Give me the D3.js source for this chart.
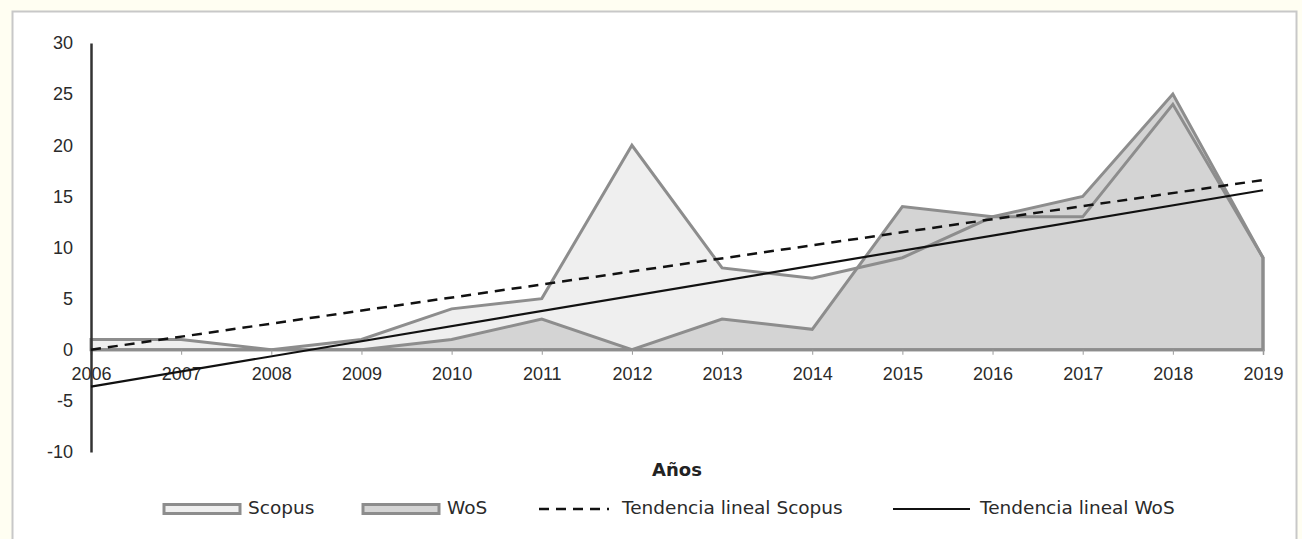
<!DOCTYPE html>
<html><head><meta charset="utf-8">
<script src="https://cdn.jsdelivr.net/npm/d3@7"></script>
<style>
html,body{margin:0;padding:0;background:#fffef2;}
svg{display:block;font-family:"DejaVu Sans",sans-serif;}
</style></head><body>
<svg id="c" width="1302" height="539"></svg>
<script>
const years = [2006,2007,2008,2009,2010,2011,2012,2013,2014,2015,2016,2017,2018,2019];
const scopus = [1,1,0,1,4,5,20,8,7,9,13,13,24,9];
const wos = [0,0,0,0,1,3,0,3,2,14,13,15,25,9];
const trendScopus = [0,16.6];   // values at first and last year
const trendWoS = [-3.6,15.6];
const yTicks = [-10,-5,0,5,10,15,20,25,30];
const legendLabels = ["Scopus","WoS","Tendencia lineal Scopus","Tendencia lineal WoS"];
const xTitle = "Años";

const svg = d3.select("#c");
// panel
svg.append("rect").attr("x",12.5).attr("y",11.5).attr("width",1284).attr("height",540)
  .attr("fill","#ffffff").attr("stroke","#c8c8c8").attr("stroke-width",2);

const x = d3.scaleLinear().domain([2006,2019]).range([91,1263]);
const y = d3.scaleLinear().domain([-10,30]).range([452,43]);

const g = svg.append("g");
const area = d3.area().x((d,i)=>x(years[i])).y0(y(0)).y1(d=>y(d));
const closed = vals => {
  const pts = vals.map((v,i)=>[x(years[i]),y(v)]);
  pts.push([x(years[years.length-1]),y(0)]);
  pts.push([x(years[0]),y(0)]);
  return "M"+pts.map(p=>p.join(",")).join("L")+"Z";
};

g.append("path").attr("d",area(scopus)).attr("fill","#efefef");
g.append("path").attr("d",area(wos)).attr("fill","#d4d4d4");
g.append("path").attr("d",closed(scopus)).attr("fill","none").attr("stroke","#8d8d8d").attr("stroke-width",3).attr("stroke-linejoin","miter");
g.append("path").attr("d",closed(wos)).attr("fill","none").attr("stroke","#8d8d8d").attr("stroke-width",3).attr("stroke-linejoin","miter");

// x axis
const xAxis = d3.axisBottom(x).tickValues(years).tickFormat(d=>String(d)).tickSize(5).tickPadding(12);
const xa = svg.append("g").attr("transform",`translate(0,${y(0)})`).call(xAxis);
xa.select(".domain").attr("stroke","#8d8d8d").attr("stroke-width",1.5);
xa.selectAll(".tick line").attr("stroke","#9a9a9a");
xa.selectAll("text").attr("font-size",18).attr("fill","#2a2a2a");

// y axis
const yAxis = d3.axisLeft(y).tickValues(yTicks).tickFormat(d=>String(d)).tickSize(0).tickPadding(18);
const ya = svg.append("g").attr("transform",`translate(${x(2006)},0)`).call(yAxis);
ya.select(".domain").attr("stroke","#333").attr("stroke-width",2.5);
ya.selectAll("text").attr("font-size",18).attr("fill","#2a2a2a");

// trend lines
const line = d3.line().x(d=>x(d[0])).y(d=>y(d[1]));
const yr0 = years[0], yr1 = years[years.length-1];
svg.append("path").attr("d",line([[yr0,trendScopus[0]],[yr1,trendScopus[1]]]))
  .attr("stroke","#111").attr("stroke-width",2.5).attr("stroke-dasharray","10,7").attr("fill","none");
svg.append("path").attr("d",line([[yr0,trendWoS[0]],[yr1,trendWoS[1]]]))
  .attr("stroke","#111").attr("stroke-width",2.2).attr("fill","none");

// axis title
svg.append("text").attr("x",(x(2006)+x(2019))/2).attr("y",476).attr("text-anchor","middle")
  .attr("font-size",18).attr("font-weight","bold").attr("fill","#222").text(xTitle);

// legend
const ly = 509;
const lg = svg.append("g");
const swX = [164,363], fills = ["#efefef","#d4d4d4"];
[0,1].forEach(i=>{
  lg.append("rect").attr("x",swX[i]).attr("y",ly-4.5).attr("width",76).attr("height",9)
    .attr("fill",fills[i]).attr("stroke","#8d8d8d").attr("stroke-width",3);
  lg.append("text").attr("x",swX[i]+84).attr("y",ly+5).attr("font-size",18.5).attr("fill","#2a2a2a").text(legendLabels[i]);
});
lg.append("line").attr("x1",539).attr("x2",609).attr("y1",ly).attr("y2",ly)
  .attr("stroke","#111").attr("stroke-width",2.5).attr("stroke-dasharray","10,7");
lg.append("text").attr("x",622).attr("y",ly+5).attr("font-size",18.5).attr("fill","#2a2a2a").text(legendLabels[2]);
lg.append("line").attr("x1",893).attr("x2",970).attr("y1",ly).attr("y2",ly)
  .attr("stroke","#111").attr("stroke-width",2.2);
lg.append("text").attr("x",980).attr("y",ly+5).attr("font-size",18.5).attr("fill","#2a2a2a").text(legendLabels[3]);
</script>
</body></html>
